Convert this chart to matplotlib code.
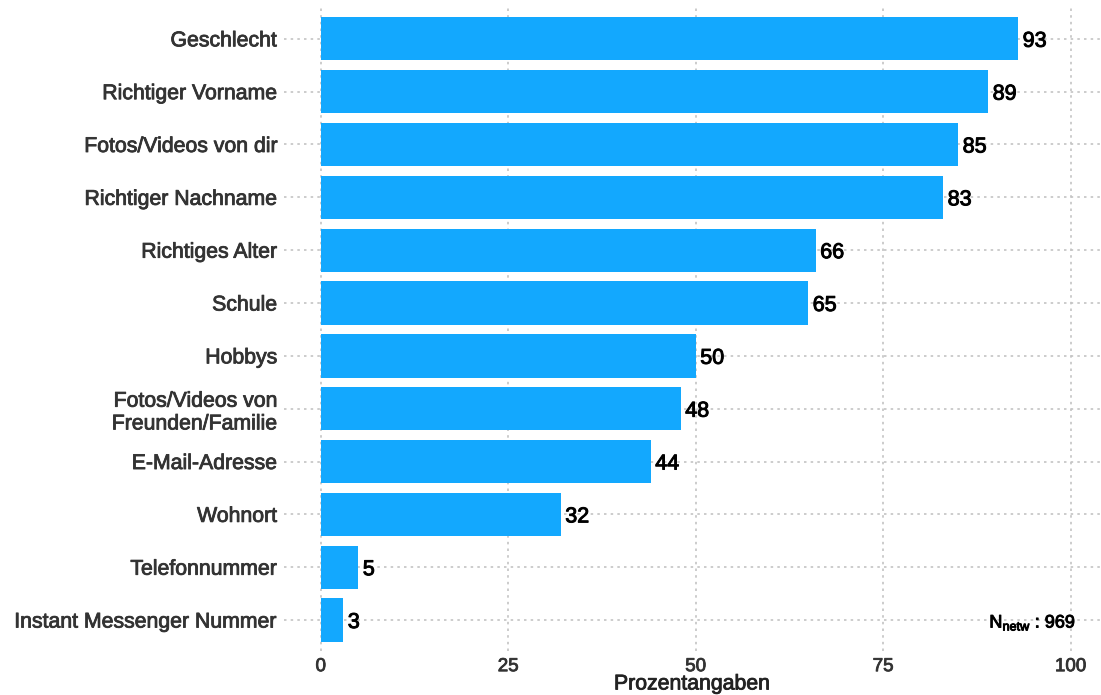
import matplotlib.pyplot as plt
import matplotlib.patheffects as pe
import numpy as np

plt.rcParams['font.family'] = ['Liberation Sans', 'DejaVu Sans']

# data
categories = ['Geschlecht', 'Richtiger Vorname', 'Fotos/Videos von dir',
              'Richtiger Nachname', 'Richtiges Alter', 'Schule', 'Hobbys',
              'Fotos/Videos von\nFreunden/Familie', 'E-Mail-Adresse', 'Wohnort',
              'Telefonnummer', 'Instant Messenger Nummer']
values = [93, 89, 85, 83, 66, 65, 50, 48, 44, 32, 5, 3]
x_ticks = [0, 25, 50, 75, 100]
n_total = 969

bar_color = '#13a8fe'
grid_color = '#c4c4c4'
label_color = '#333333'

# a light stroke makes the regular face look a bit heavier, like the original
thick = [pe.withStroke(linewidth=0.6, foreground=label_color)]
thick_black = [pe.withStroke(linewidth=0.7, foreground='black')]

fig = plt.figure(figsize=(11.01, 6.95), dpi=100)
ax = fig.add_axes([0.258, 0.063, 0.741, 0.926])

pos = np.arange(len(categories))
ax.barh(pos, values, height=0.82, color=bar_color, zorder=2)

for p, v in zip(pos, values):
    ax.text(v + 0.6, p, str(v), va='center_baseline', ha='left', fontsize=15.5,
            color='black', zorder=3, path_effects=thick_black)

ax.set_xlim(-4.9, 103.9)
ax.set_ylim(len(categories) - 0.41, -0.59)
ax.set_yticks(pos)
ax.set_yticklabels(categories, fontsize=15.3, color=label_color, linespacing=1.25)
ax.set_xticks(x_ticks)
ax.set_xticklabels([str(t) for t in x_ticks], fontsize=13.5, color=label_color)
for t in ax.get_yticklabels() + ax.get_xticklabels():
    t.set_path_effects(thick)
ax.tick_params(axis='both', length=0)
ax.tick_params(axis='y', pad=5)
ax.tick_params(axis='x', pad=5)

ax.grid(True, color=grid_color, linestyle=(0, (1.5, 2.5)), linewidth=1.2, zorder=0)
for s in ax.spines.values():
    s.set_visible(False)

xl = ax.set_xlabel('Prozentangaben', fontsize=15.3, color='#222222', labelpad=-0.5)
xl.set_path_effects([pe.withStroke(linewidth=0.6, foreground='#222222')])

nt = ax.text(100.7, pos[-1], r'N$_{\mathregular{netw}}$ : ' + str(n_total),
             ha='right', va='center_baseline', fontsize=13, color='black', zorder=3)
nt.set_path_effects(thick_black)

fig.savefig('out.png', dpi=100)
